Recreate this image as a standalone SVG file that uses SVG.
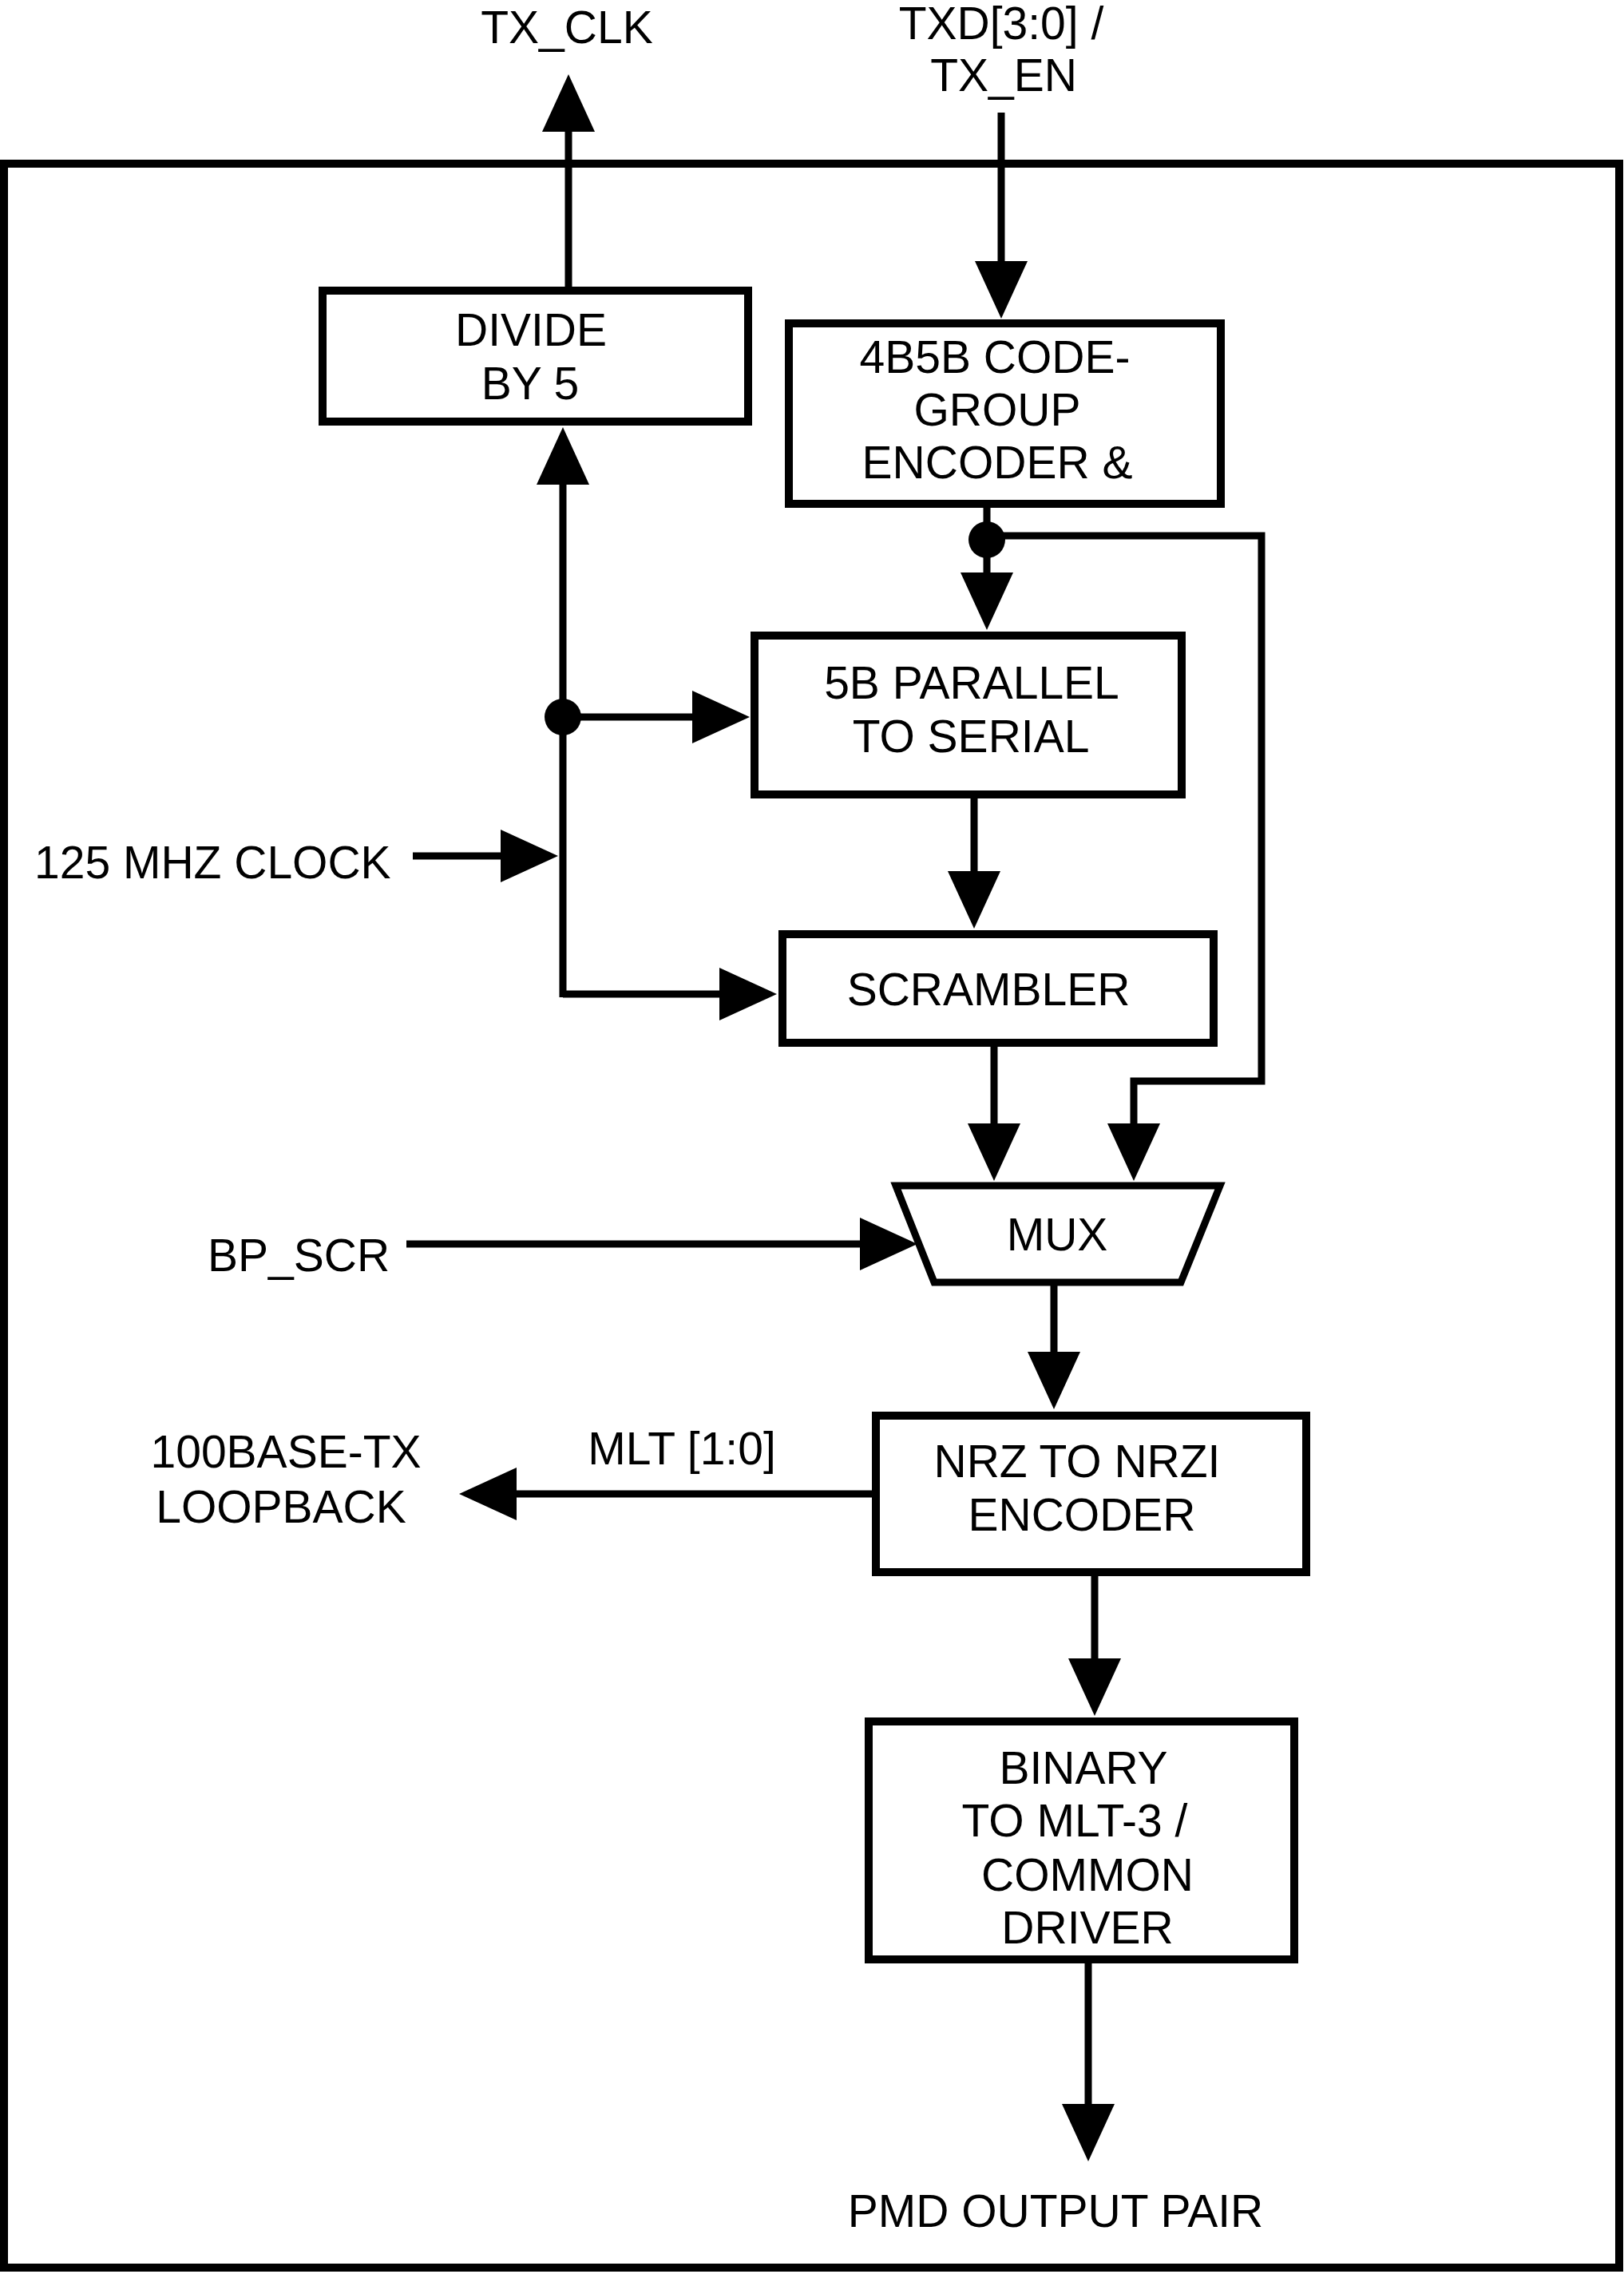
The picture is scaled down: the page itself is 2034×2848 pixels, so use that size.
<svg xmlns="http://www.w3.org/2000/svg" width="2034" height="2848" viewBox="0 0 2034 2848">
<style>
.box{fill:#fff;stroke:#000;stroke-width:10}
.w{fill:none;stroke:#000;stroke-width:9}
text{font-family:"Liberation Sans",Arial,sans-serif;font-size:57px;fill:#000}
.c{text-anchor:middle}
</style>
<defs>
<marker id="ah" viewBox="0 0 72 66" markerWidth="72" markerHeight="66" refX="1" refY="33" orient="auto" markerUnits="userSpaceOnUse">
<path d="M0,0 L72,33 L0,66 Z" fill="#000"/>
</marker>
</defs>
<rect width="2034" height="2848" fill="#fff"/>
<rect id="frame" x="5" y="205" width="2023" height="2635" fill="none" stroke="#000" stroke-width="10"/>

<g id="connectors">
<line class="w" x1="712" y1="364" x2="712" y2="164" marker-end="url(#ah)"/>
<line class="w" x1="1254" y1="141" x2="1254" y2="328" marker-end="url(#ah)"/>
<line class="w" x1="705" y1="1249" x2="705" y2="606" marker-end="url(#ah)"/>
<line class="w" x1="705" y1="898" x2="868" y2="898" marker-end="url(#ah)"/>
<line class="w" x1="517" y1="1072" x2="628" y2="1072" marker-end="url(#ah)"/>
<polyline class="w" points="705,1245 902,1245" marker-end="url(#ah)"/>
<line class="w" x1="1236" y1="631" x2="1236" y2="718" marker-end="url(#ah)"/>
<polyline class="w" points="1236,671 1580,671 1580,1354 1420,1354 1420,1408" marker-end="url(#ah)"/>
<line class="w" x1="1220" y1="995" x2="1220" y2="1092" marker-end="url(#ah)"/>
<line class="w" x1="1245" y1="1306" x2="1245" y2="1408" marker-end="url(#ah)"/>
<line class="w" x1="509" y1="1558" x2="1078" y2="1558" marker-end="url(#ah)"/>
<line class="w" x1="1320" y1="1606" x2="1320" y2="1694" marker-end="url(#ah)"/>
<line class="w" x1="1097" y1="1871" x2="646" y2="1871" marker-end="url(#ah)"/>
<line class="w" x1="1371" y1="1969" x2="1371" y2="2078" marker-end="url(#ah)"/>
<line class="w" x1="1363" y1="2454" x2="1363" y2="2636" marker-end="url(#ah)"/>
<circle cx="705" cy="898" r="23" fill="#000"/>
<circle cx="1236" cy="676" r="23" fill="#000"/>
</g>

<g id="divide">
<rect class="box" x="404" y="364" width="533" height="164"/>
<text class="c" x="665" y="433">DIVIDE</text>
<text class="c" x="664" y="500">BY 5</text>
</g>
<g id="encoder4b5b">
<rect class="box" x="988" y="405" width="541" height="226"/>
<text class="c" x="1246" y="467">4B5B CODE-</text>
<text class="c" x="1249" y="533">GROUP</text>
<text class="c" x="1249" y="599">ENCODER &amp;</text>
</g>
<g id="p2s">
<rect class="box" x="945" y="796" width="535" height="199"/>
<text class="c" x="1217" y="875">5B PARALLEL</text>
<text class="c" x="1216" y="942">TO SERIAL</text>
</g>
<g id="scrambler">
<rect class="box" x="980" y="1170" width="540" height="136"/>
<text class="c" x="1238" y="1259">SCRAMBLER</text>
</g>
<g id="mux">
<polygon points="1122,1485 1528,1485 1479,1606 1170,1606" fill="#fff" stroke="#000" stroke-width="9" stroke-linejoin="miter"/>
<text class="c" x="1324" y="1566">MUX</text>
</g>
<g id="nrzi">
<rect class="box" x="1097" y="1773" width="539" height="196"/>
<text class="c" x="1349" y="1850">NRZ TO NRZI</text>
<text class="c" x="1355" y="1917">ENCODER</text>
</g>
<g id="mlt3">
<rect class="box" x="1088" y="2156" width="533" height="298"/>
<text class="c" x="1357" y="2234">BINARY</text>
<text class="c" x="1346" y="2300">TO MLT-3 /</text>
<text class="c" x="1362" y="2368">COMMON</text>
<text class="c" x="1362" y="2434">DRIVER</text>
</g>

<g id="labels">
<text class="c" x="710" y="54">TX_CLK</text>
<text class="c" x="1254" y="49">TXD[3:0] /</text>
<text class="c" x="1257" y="114">TX_EN</text>
<text x="43" y="1100">125 MHZ CLOCK</text>
<text x="260" y="1592">BP_SCR</text>
<text class="c" x="854" y="1834">MLT [1:0]</text>
<text class="c" x="358" y="1838">100BASE-TX</text>
<text class="c" x="352" y="1907">LOOPBACK</text>
<text class="c" x="1322" y="2789">PMD OUTPUT PAIR</text>
</g>
</svg>
